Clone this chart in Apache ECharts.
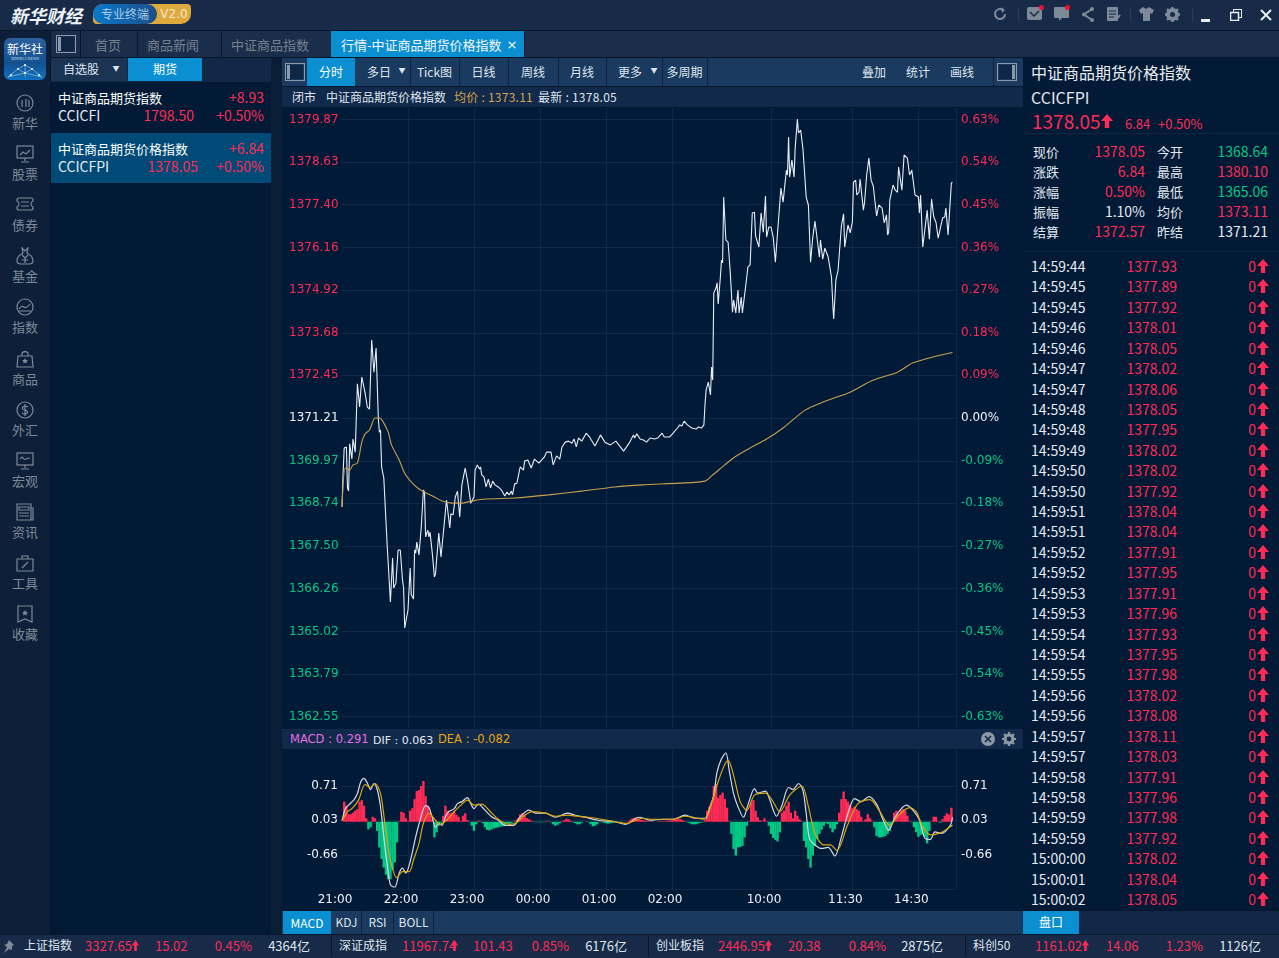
<!DOCTYPE html>
<html lang="zh-CN">

<head>
  <meta charset="UTF-8">
  <title>行情-中证商品期货价格指数</title>
  <script src="https://cdn.jsdelivr.net/npm/echarts@6/dist/echarts.min.js"></script>
  <style>
    html,
    body {
      margin: 0;
      width: 1279px;
      height: 958px;
      overflow: hidden;
      background: #0a1a2f;
      font-family: "Noto Sans CJK SC", sans-serif;
    }

    .r,
    .t,
    svg.i {
      position: absolute;
    }

    .t {
      white-space: nowrap;
      line-height: 1;
    }

    #chart {
      position: absolute;
      left: 282px;
      top: 108px;
      width: 740px;
      height: 802px;
    }
  </style>
</head>

<body>
  <div id="ui"></div>
  <div id="chart"></div>
  <div id="over"></div>
  <script>
    // [minute since 21:00 on the trading clock, price]
    var pricePoints = [
      [0, 1368.63], [1, 1369.61], [2, 1370.34], [4, 1370.37], [5, 1369.18], [6, 1369.09], [7, 1370.46], [9, 1370.02], [10, 1370.60], [12, 1370.22],
      [14, 1372.20], [15, 1371.88], [16, 1371.53], [18, 1372.40], [19, 1372.37], [21, 1371.94], [23, 1371.53], [25, 1371.47], [27, 1373.47], [29, 1372.54],
      [31, 1373.24], [32, 1372.23], [33, 1371.21], [34, 1370.80], [35, 1370.86], [36, 1369.79], [38, 1369.47], [41, 1367.56], [42, 1367.56], [44, 1365.87],
      [46, 1367.15], [47, 1366.28], [49, 1366.42], [51, 1367.38], [53, 1367.38], [55, 1366.51], [56, 1366.28], [57, 1365.12], [60, 1365.64], [62, 1366.86],
      [63, 1366.08], [65, 1365.96], [66, 1367.38], [67, 1367.29], [68, 1367.61], [70, 1367.24], [72, 1368.02], [74, 1369.12], [75, 1369.06], [76, 1367.76],
      [78, 1367.96], [79, 1367.76], [80, 1367.90], [82, 1367.32], [83, 1367.29], [84, 1366.60], [85, 1366.69], [88, 1367.87], [90, 1367.18], [91, 1367.15],
      [93, 1368.16], [95, 1368.83], [98, 1368.02], [99, 1368.43], [101, 1368.40], [103, 1368.92], [105, 1369.09], [107, 1368.34], [109, 1369.27], [112, 1369.76],
      [114, 1369.41], [116, 1368.98], [117, 1368.74], [120, 1368.92], [121, 1369.70], [123, 1369.85], [125, 1369.73], [126, 1369.79], [127, 1369.56], [129, 1369.50],
      [131, 1369.21], [133, 1369.44], [135, 1369.18], [137, 1369.38], [139, 1369.27], [142, 1369.21], [145, 1369.12], [148, 1368.95], [150, 1369.06], [152, 1368.98],
      [154, 1369.09], [155, 1368.98], [157, 1369.30], [159, 1369.32], [162, 1369.79], [165, 1369.70], [166, 1369.96], [169, 1369.99], [172, 1369.76], [175, 1370.02],
      [179, 1369.90], [184, 1370.08], [186, 1370.22], [190, 1370.22], [192, 1369.85], [195, 1370.11], [198, 1370.02], [200, 1370.37], [203, 1370.51], [206, 1370.54],
      [209, 1370.48], [211, 1370.60], [213, 1370.37], [215, 1370.63], [218, 1370.54], [222, 1370.77], [225, 1370.66], [230, 1370.40], [235, 1370.72], [239, 1370.51],
      [244, 1370.43], [249, 1370.54], [256, 1370.25], [261, 1370.48], [265, 1370.72], [266, 1370.63], [268, 1370.75], [271, 1370.60], [274, 1370.57], [277, 1370.51],
      [278, 1370.48], [280, 1370.63], [284, 1370.60], [287, 1370.63], [291, 1370.77], [293, 1370.66], [295, 1370.66], [298, 1370.66], [301, 1370.77], [305, 1370.92],
      [307, 1371.01], [309, 1370.98], [311, 1371.12], [314, 1371.01], [315, 1371.04], [318, 1370.92], [322, 1370.89], [324, 1370.95], [327, 1370.92], [329, 1371.01],
      [330, 1371.59], [331, 1372.02], [333, 1372.25], [335, 1371.88], [336, 1372.69], [337, 1372.31], [338, 1374.84], [340, 1374.98], [341, 1375.13], [342, 1374.52],
      [344, 1375.30], [345, 1375.79], [346, 1375.71], [347, 1377.62], [349, 1376.37], [351, 1376.31], [353, 1375.42], [355, 1374.28], [356, 1374.63], [358, 1374.26],
      [360, 1374.92], [361, 1374.26], [363, 1374.72], [364, 1374.26], [365, 1374.26], [368, 1375.30], [369, 1375.59], [371, 1375.65], [373, 1377.16], [375, 1377.18],
      [376, 1376.49], [379, 1376.17], [381, 1377.16], [383, 1376.60], [385, 1377.65], [386, 1376.46], [388, 1376.75], [390, 1376.75], [392, 1376.46], [394, 1375.73],
      [395, 1376.17], [398, 1377.45], [399, 1377.88], [401, 1377.47], [404, 1378.40], [405, 1378.26], [406, 1379.36], [407, 1378.20], [409, 1378.69], [411, 1378.20],
      [412, 1379.04], [414, 1379.88], [415, 1379.48], [417, 1379.56], [419, 1379.04], [422, 1377.62], [424, 1377.39], [426, 1375.73], [428, 1376.46], [430, 1376.92],
      [434, 1375.88], [435, 1376.37], [437, 1375.82], [439, 1376.14], [442, 1375.88], [445, 1375.30], [446, 1374.63], [447, 1374.08], [449, 1375.21], [451, 1375.50],
      [454, 1376.78], [455, 1376.81], [456, 1377.13], [457, 1376.17], [460, 1376.81], [462, 1376.58], [464, 1376.89], [465, 1378.05], [467, 1378.11], [468, 1377.68],
      [470, 1377.76], [471, 1378.14], [474, 1377.24], [475, 1377.45], [477, 1378.26], [479, 1378.75], [481, 1378.11], [483, 1377.94], [486, 1377.07], [488, 1377.39],
      [491, 1377.30], [493, 1376.87], [495, 1377.10], [496, 1376.52], [497, 1376.60], [498, 1377.53], [501, 1377.97], [503, 1377.82], [505, 1377.76], [506, 1378.49],
      [509, 1377.82], [511, 1378.84], [514, 1378.75], [516, 1378.26], [518, 1378.40], [521, 1377.68], [524, 1377.62], [525, 1377.16], [526, 1377.68], [528, 1376.17],
      [529, 1376.17], [532, 1377.24], [534, 1376.40], [536, 1377.56], [538, 1377.04], [540, 1376.89], [542, 1376.43], [545, 1376.87], [546, 1377.01], [548, 1377.04],
      [549, 1377.30], [551, 1376.52], [554, 1378.03], [555, 1378.05]
    ];
    var averagePoints = [
      [0, 1368.63], [3, 1369.76], [7, 1369.70], [10, 1369.85], [14, 1369.90], [18, 1370.51], [21, 1370.75], [25, 1370.86], [30, 1371.21], [34, 1371.21],
      [37, 1371.12], [42, 1370.80], [45, 1370.43], [52, 1369.99], [57, 1369.61], [64, 1369.32], [70, 1369.15], [77, 1369.03], [84, 1368.92], [91, 1368.80],
      [100, 1368.74], [109, 1368.74], [118, 1368.80], [130, 1368.86], [157, 1368.89], [188, 1368.98], [218, 1369.09], [248, 1369.21], [273, 1369.27], [307, 1369.32],
      [330, 1369.38], [336, 1369.53], [348, 1369.85], [357, 1370.08], [371, 1370.34], [386, 1370.60], [401, 1370.92], [421, 1371.44], [437, 1371.67], [450, 1371.82],
      [462, 1371.96], [483, 1372.31], [505, 1372.54], [519, 1372.81], [537, 1372.98], [555, 1373.11]
    ];
    var difPoints = [
      [0, 0.02], [3, 0.26], [6, 0.33], [11, 0.44], [14, 0.56], [17, 0.79], [20, 0.86], [23, 0.77], [26, 0.64], [29, 0.76], [32, 0.64], [35, 0.30], [38, -0.30], [41, -0.83],
      [44, -1.25], [48, -1.30], [52, -1.02], [55, -0.92], [58, -1.02], [62, -0.79], [67, -0.30], [71, 0.03], [76, 0.32], [79, 0.28], [82, 0.09], [85, -0.11], [88, -0.03],
      [91, -0.07], [94, 0.10], [97, 0.20], [102, 0.26], [105, 0.36], [109, 0.40], [114, 0.48], [117, 0.36], [120, 0.26], [124, 0.35], [130, 0.23], [136, 0.10], [142, 0.03],
      [148, -0.07], [156, -0.07], [162, 0.10], [170, 0.23], [176, 0.17], [185, 0.17], [194, 0.09], [205, 0.17], [212, 0.13], [221, 0.09], [233, 0.03], [248, 0], [258, -0.05],
      [267, 0.07], [271, 0.09], [280, 0.03], [292, 0.05], [301, 0.05], [312, 0.13], [321, 0.07], [330, 0.07], [335, 0.33], [338, 0.53], [341, 0.99], [345, 1.25], [349, 1.37],
      [352, 1.02], [356, 0.56], [360, 0.30], [365, 0.09], [369, 0.33], [375, 0.66], [378, 0.57], [385, 0.61], [389, 0.43], [395, 0.11], [400, 0.33], [406, 0.68], [410, 0.64],
      [415, 0.76], [419, 0.63], [422, 0.17], [425, -0.33], [430, -0.46], [436, -0.53], [442, -0.51], [448, -0.68], [454, -0.30], [460, 0.17], [466, 0.46], [472, 0.40], [479, 0.50],
      [486, 0.35], [492, 0.03], [497, -0.17], [503, 0.10], [513, 0.33], [519, 0.23], [525, 0.03], [530, -0.33], [535, -0.35], [539, -0.20], [545, -0.23], [553, -0.07], [555, 0.09]
    ];
    var deaPoints = [
      [0, 0.02], [5, 0.20], [9, 0.26], [15, 0.43], [21, 0.74], [26, 0.68], [30, 0.76], [35, 0.56], [39, -0.03], [44, -0.76], [50, -1.11], [55, -0.99], [61, -0.99], [65, -0.76],
      [70, -0.43], [74, -0.03], [79, 0.17], [85, 0.03], [89, -0.05], [95, 0.03], [102, 0.20], [108, 0.33], [114, 0.43], [120, 0.33], [127, 0.35], [135, 0.20], [142, 0.05],
      [152, -0.05], [158, -0.03], [165, 0.11], [173, 0.20], [185, 0.17], [194, 0.11], [205, 0.13], [214, 0.11], [224, 0.09], [236, 0.05], [248, 0], [259, -0.03], [267, 0.03],
      [273, 0.07], [280, 0.05], [292, 0.05], [301, 0.05], [312, 0.11], [321, 0.08], [330, 0.05], [336, 0.36], [341, 0.73], [347, 1.09], [351, 1.22], [356, 0.92], [362, 0.40],
      [368, 0.23], [375, 0.53], [385, 0.57], [391, 0.43], [398, 0.20], [407, 0.53], [418, 0.71], [424, 0.30], [430, -0.23], [438, -0.46], [444, -0.46], [450, -0.57], [459, -0.10],
      [469, 0.36], [480, 0.44], [489, 0.20], [498, -0.07], [506, 0.13], [516, 0.28], [522, 0.20], [528, -0.10], [535, -0.26], [544, -0.22], [553, -0.10], [555, -0.07]
    ];
    // one histogram reading every 2 minutes
    var macdBars = [
      0, 0.40, 0.32, 0.15, 0.15, 0.18, 0.22, 0.25, 0.40, 0.43, 0.32, 0.07, -0.15, -0.11, 0.10, 0.07, -0.18, -0.51, -0.74, -0.91,
      -1.05, -1.14, -1.14, -0.96, -0.81, -0.41, 0.01, 0.20, 0.18, 0.07, 0.01, 0.22, 0.27, 0.45, 0.61, 0.63, 0.71, 0.81, 0.51, 0.32,
      0.18, 0.05, -0.31, -0.21, -0.08, -0.02, 0.12, 0.32, 0.22, 0.17, 0.18, 0.22, 0.14, 0.10, 0.01, 0.12, 0.17, 0.03, -0.01, -0.08,
      -0.18, -0.05, 0.02, 0.01, -0.03, -0.11, -0.16, -0.17, -0.15, -0.13, -0.12, -0.11, -0.10, -0.09, -0.07, -0.03, -0.05, -0.03, -0.01, 0.03,
      0.07, 0.15, 0.17, 0.14, 0.07, 0.05, 0.02, 0.01, -0.01, -0.01, -0.01, -0.01, -0.01, 0.01, 0.01, -0.01, -0.05, -0.08, -0.06, -0.03,
      0.01, 0.03, 0.06, 0.05, 0.02, -0.01, -0.03, -0.05, -0.05, -0.02, 0, 0.01, -0.01, -0.05, -0.09, -0.08, -0.05, 0.01, -0.01, -0.02,
      -0.03, -0.04, -0.03, -0.02, -0.01, -0.01, -0.01, -0.01, 0, 0, 0.01, 0.04, 0.07, 0.08, 0.07, 0.05, 0.04, 0.03, 0.02, 0.01,
      0.01, 0.01, 0, 0, 0.01, 0.01, 0.01, 0.01, 0.02, 0.02, 0.03, 0.04, 0.05, 0.06, 0.05, 0.03, 0.01, -0.01, -0.03, -0.05,
      -0.05, -0.05, -0.03, -0.02, -0.01, 0.03, 0.22, 0.30, 0.38, 0.71, 0.75, 0.48, 0.53, 0.58, 0.45, 0.28, 0.01, -0.24, -0.54, -0.67,
      -0.51, -0.50, -0.48, -0.31, -0.08, 0.01, 0.38, 0.43, 0.22, 0.09, 0.03, 0.01, 0.07, 0.01, -0.08, -0.24, -0.32, -0.36, -0.39, -0.21,
      0.18, 0.22, 0.32, 0.40, 0.18, 0.07, 0.22, 0.12, 0.05, 0.01, -0.38, -0.51, -0.74, -0.91, -0.67, -0.48, -0.34, -0.24, -0.16, -0.08,
      -0.02, -0.05, -0.13, -0.21, -0.15, -0.05, 0.18, 0.45, 0.60, 0.45, 0.40, 0.32, 0.27, 0.30, 0.25, 0.22, 0.10, 0.01, 0.05, 0.15,
      0.07, 0.01, -0.11, -0.28, -0.31, -0.31, -0.30, -0.28, -0.24, -0.18, -0.05, 0.18, 0.22, 0.15, 0.23, 0.25, 0.22, 0.12, 0.01, -0.01,
      -0.11, -0.21, -0.30, -0.26, -0.25, -0.30, -0.43, -0.18, 0.01, 0.10, 0.10, 0.01, -0.02, 0.05, 0.12, 0.17, 0.14, 0.28
    ];
    var tickMinutes = [0, 60, 120, 180, 240, 300, 390, 464, 524];
    var tickTimes = ['21:00', '22:00', '23:00', '00:00', '01:00', '02:00', '10:00', '11:30', '14:30'];
    var priceTicks = ['1362.55', '1363.79', '1365.02', '1366.26', '1367.50', '1368.74', '1369.97', '1371.21', '1372.45', '1373.68', '1374.92', '1376.16', '1377.40', '1378.63', '1379.87'];
    var percentTicks = ['-0.63%', '-0.54%', '-0.45%', '-0.36%', '-0.27%', '-0.18%', '-0.09%', '0.00%', '0.09%', '0.18%', '0.27%', '0.36%', '0.45%', '0.54%', '0.63%'];
    var macdTicks = ['-0.66', '0.03', '0.71'];

    var tradeTimes = ['14:59:44', '14:59:45', '14:59:45', '14:59:46', '14:59:46', '14:59:47', '14:59:47', '14:59:48', '14:59:48', '14:59:49', '14:59:50', '14:59:50', '14:59:51', '14:59:51', '14:59:52', '14:59:52', '14:59:53', '14:59:53', '14:59:54', '14:59:54', '14:59:55', '14:59:56', '14:59:56', '14:59:57', '14:59:57', '14:59:58', '14:59:58', '14:59:59', '14:59:59', '15:00:00', '15:00:01', '15:00:02'];
    var tradePrices = ['1377.93', '1377.89', '1377.92', '1378.01', '1378.05', '1378.02', '1378.06', '1378.05', '1377.95', '1378.02', '1378.02', '1377.92', '1378.04', '1378.04', '1377.91', '1377.95', '1377.91', '1377.96', '1377.93', '1377.95', '1377.98', '1378.02', '1378.08', '1378.11', '1378.03', '1377.91', '1377.96', '1377.98', '1377.92', '1378.02', '1378.04', '1378.05'];
    var navLabels = ['新华', '股票', '债券', '基金', '指数', '商品', '外汇', '宏观', '资讯', '工具', '收藏'];
    var tickerRows = [
      ['上证指数', '3327.65', '15.02', '0.45%', '4364亿'],
      ['深证成指', '11967.74', '101.43', '0.85%', '6176亿'],
      ['创业板指', '2446.95', '20.38', '0.84%', '2875亿'],
      ['科创50', '1161.02', '14.06', '1.23%', '1126亿']
    ];

    var RED = '#ff2b54';
    var GREEN = '#00c985';
    var WHITE = '#e3eaf2';
    var AXIS_WHITE = '#eef3f8';
    var GOLD = '#d3a54c';
    var GRID = '#10294a';
    var BLUE = '#0a8fd3';
    var BAR = '#1b3a5f';
    var AXIS_FONT = '"DejaVu Sans"';

    var ui = document.getElementById('ui');
    var over = document.getElementById('over');

    function box(x, y, w, h, color, parent) {
      var d = document.createElement('div');
      d.className = 'r';
      d.style.cssText = 'left:' + x + 'px;top:' + y + 'px;width:' + w + 'px;height:' + h + 'px;background:' + color;
      (parent || ui).appendChild(d);
      return d;
    }

    // y is the vertical centre of the text; align l / r / c
    function text(x, y, str, size, color, align, font, parent) {
      var d = document.createElement('div');
      var tx = align === 'r' ? '-100%' : align === 'c' ? '-50%' : '0';
      // the CJK font sits a pixel low in its line box
      var top = font ? y : y - 1;
      d.className = 't';
      d.textContent = str;
      d.style.cssText = 'left:' + x + 'px;top:' + top + 'px;font-size:' + size + 'px;color:' + color + ';transform:translate(' + tx + ',-50%)' + (font ? ';font-family:' + font : '');
      (parent || ui).appendChild(d);
      return d;
    }

    function icon(x, y, w, h, inner, parent) {
      var ns = '<svg class="i" style="left:' + x + 'px;top:' + y + 'px" width="' + w + '" height="' + h + '" viewBox="0 0 ' + w + ' ' + h + '" xmlns="http://www.w3.org/2000/svg">' + inner + '</svg>';
      (parent || ui).insertAdjacentHTML('beforeend', ns);
    }

    function upArrow(x, y, w, h, color, parent) {
      icon(x, y, w, h, '<path fill="' + color + '" d="M' + w / 2 + ' 0L' + w + ' ' + h * 0.5 + 'H' + w * 0.68 + 'V' + h + 'H' + w * 0.32 + 'V' + h * 0.5 + 'H0Z"/>', parent);
    }

    function panelToggle(x, y, side, parent) {
      var bar = side === 'l' ? 'x="2" ' : 'x="15" ';
      icon(x, y, 20, 18, '<rect x="0.5" y="0.5" width="19" height="17" fill="none" stroke="#8d99a8"/><rect ' + bar + 'y="2" width="3" height="14" fill="#8d99a8"/><rect ' + (side === 'l' ? 'x="5"' : 'x="2"') + ' y="2" width="13" height="14" fill="#0f2744"/>', parent);
    }

    function drawChrome() {
      // title bar
      box(0, 0, 1279, 30, '#172a47');
      box(0, 30, 1279, 1, '#07162a');
      var logo = text(10, 15, '新华财经', 18, '#eef2f6', 'l', '"Noto Sans CJK SC"');
      logo.style.fontStyle = 'italic';
      logo.style.fontWeight = '700';
      var badge = box(93, 4, 98, 20, '#e0a93c');
      badge.style.borderRadius = '10px 4px 10px 4px';
      var badgeBlue = box(93, 4, 64, 20, 'linear-gradient(90deg,#0a78c8,#1c4f8c)');
      badgeBlue.style.borderRadius = '10px 10px 10px 10px';
      text(125, 15, '专业终端', 12, '#a9cdea', 'c');
      text(174, 14, 'V2.0', 12, '#f1e7d2', 'c', AXIS_FONT);

      var g = '#7f8a99';
      icon(992, 6, 16, 16, '<path d="M13 8a5 5 0 1 1-2-4" fill="none" stroke="' + g + '" stroke-width="2"/><path d="M9 1l4 3-3 3z" fill="' + g + '"/>');
      box(1018, 8, 1, 14, '#2a3c58');
      icon(1027, 7, 15, 14, '<rect width="15" height="13" rx="2" fill="' + g + '"/><path d="M3 5l4 4 5-5" fill="none" stroke="#172a47" stroke-width="1.5"/>');
      box(1039, 5, 5, 5, '#f01030').style.borderRadius = '50%';
      icon(1054, 7, 15, 15, '<path d="M1 0h13a1 1 0 0 1 1 1v9a1 1 0 0 1-1 1H8l-3 3v-3H1a1 1 0 0 1-1-1V1a1 1 0 0 1 1-1z" fill="' + g + '"/>');
      box(1065, 5, 5, 5, '#f01030').style.borderRadius = '50%';
      icon(1081, 7, 13, 15, '<path d="M11 2L3 7.5 11 13" fill="none" stroke="' + g + '" stroke-width="2"/><circle cx="11" cy="2" r="2" fill="' + g + '"/><circle cx="3" cy="7.5" r="2" fill="' + g + '"/><circle cx="11" cy="13" r="2" fill="' + g + '"/>');
      icon(1107, 7, 14, 15, '<rect width="11" height="14" rx="1" fill="' + g + '"/><path d="M2 4h7M2 7h7M2 10h5" stroke="#172a47"/><path d="M9 13l4-5" stroke="' + g + '" stroke-width="2"/>');
      box(1130, 8, 1, 14, '#2a3c58');
      icon(1139, 7, 15, 14, '<path d="M4 0l3 2 3-2 5 3-2 4-2-1v8H4V6L2 7 0 3z" fill="' + g + '"/>');
      icon(1165, 7, 15, 15, '<circle cx="7.5" cy="7.5" r="6.5" fill="' + g + '"/><path d="M7.5 0v15M0 7.5h15M2 2l11 11M13 2L2 13" stroke="' + g + '" stroke-width="2.4"/><circle cx="7.5" cy="7.5" r="2.5" fill="#172a47"/>');
      box(1192, 8, 1, 14, '#2a3c58');
      box(1201, 19, 9, 3, '#e8edf2');
      icon(1230, 9, 12, 12, '<rect x="3.5" y="0.5" width="8" height="8" fill="none" stroke="#e8edf2"/><rect x="0.5" y="3.5" width="8" height="8" fill="#172a47" stroke="#e8edf2" stroke-width="1.5"/>');
      icon(1260, 9, 12, 12, '<path d="M1 1l10 10M11 1L1 11" stroke="#e8edf2" stroke-width="2"/>');

      // nav column
      box(0, 31, 50, 904, '#0e2039');
      box(50, 31, 1, 904, '#07162a');
      var mark = box(4, 38, 42, 42, 'linear-gradient(180deg,#2b5f9e 0%,#14508f 60%,#0f74c4 100%)');
      mark.style.borderRadius = '6px';
      text(25, 50, '新华社', 12, '#ffffff', 'c');
      text(25, 59, 'XINHUA NEWS', 4, '#cfe2f5', 'c', '"Liberation Serif"');
      icon(6, 63, 38, 16, '<path d="M2 14L12 6 19 2 26 6 36 14M12 6L19 10 26 6M2 14L19 10 36 14M19 2V14" fill="none" stroke="#c8e2f7" stroke-width="0.5"/><circle cx="12" cy="6" r="1" fill="#fff"/><circle cx="19" cy="2" r="1" fill="#fff"/><circle cx="26" cy="6" r="1" fill="#fff"/><circle cx="19" cy="10" r="1" fill="#fff"/><circle cx="5" cy="12" r="1" fill="#fff"/><circle cx="33" cy="12" r="1" fill="#fff"/>');
      var s = 'fill="none" stroke="#7d8997" stroke-width="1.2"';
      var navIcons = [
        '<circle cx="9" cy="9" r="8" ' + s + '/><path d="M6 6v7M10 5v8M13 6v7" ' + s + '/>',
        '<rect x="1" y="1" width="16" height="12" ' + s + '/><path d="M4 10l3-3 3 2 4-4M9 13v3M5 17h8" ' + s + '/>',
        '<path d="M3 2h12q2 0 2 2v1q-2 1-2 3t2 3v1q0 2-2 2H3q-2 0-2-2v-1q2-1 2-3T1 5V4q0-2 2-2zM5 6h8M5 10h8" ' + s + '/>',
        '<path d="M6 1l3 3 3-3-1 5q6 3 6 8 0 3-4 3H5q-4 0-4-3 0-5 6-8zM6 8l3 3 3-3M9 11v5M6 13h6" ' + s + '/>',
        '<circle cx="9" cy="9" r="8" ' + s + '/><path d="M3 11q3-4 5-2t6-3M3 13h12" ' + s + '/>',
        '<path d="M2 6h14l1 11H1zM6 6V3q3-3 6 0v3" ' + s + '/><path d="M9 8l1 2h2l-1.5 1.5.5 2L9 12.5 7 13.500l.5-2L6 10h2z" fill="#7d8997"/>',
        '<circle cx="9" cy="9" r="8" ' + s + '/><path d="M12 6q-3-2-5 0t2 3 2 3-5 0M9 3v12" ' + s + '/>',
        '<rect x="1" y="1" width="16" height="12" ' + s + '/><path d="M4 7q2-3 3-1t3 1 4-1M9 13v3M5 17h8" ' + s + '/>',
        '<path d="M1 1h14v16H1zM15 5h2v12h-2M3 4h10v3H3zM3 10h10M3 13h10" ' + s + '/>',
        '<path d="M1 5h16v12H1zM6 5V2h6v3M6 14l6-6" ' + s + '/>',
        '<path d="M2 1h14v16L9 14l-7 3z" ' + s + '/><path d="M9 5l1 2h2l-1.500 1.500.5 2L9 9.500 7 10.500l.5-2L6 7h2z" fill="#7d8997"/>'
      ];
      navLabels.forEach(function (label, i) {
        var y = 123 + i * 51.1;
        icon(16, y - 29, 18, 18, navIcons[i]);
        text(25, y, label, 13, '#7d8997', 'c');
      });

      // tab row
      box(51, 31, 1228, 26, '#1a2e4b');
      box(51, 57, 1228, 1, '#07162a');
      panelToggle(56, 35, 'l');
      [[80, '首页', 108], [137, '商品新闻', 173], [221, '中证商品指数', 270]].forEach(function (t) {
        box(t[0], 31, 1, 26, '#07162a');
        text(t[2], 45, t[1], 13, '#76818f', 'c');
      });
      box(331, 31, 193, 26, BLUE);
      text(341, 45, '行情-中证商品期货价格指数', 13, '#f4f8fb', 'l');
      text(512, 44, '×', 13, '#ffffff', 'c', AXIS_FONT);
      box(524, 31, 1, 26, '#07162a');

      // left list
      box(51, 58, 220, 877, '#021a36');
      box(271, 58, 11, 877, '#0c1d36');
      box(51, 58, 220, 24, '#132847');
      box(51, 58, 76, 23, '#1b3454');
      text(81, 70, '自选股', 12, '#dfe6ee', 'c');
      text(116, 69, '▼', 7, '#dfe6ee', 'c');
      box(128, 58, 74, 23, BLUE);
      text(165, 70, '期货', 12, '#ffffff', 'c');
      box(51, 133, 220, 50, '#004a77');
      text(58, 98, '中证商品期货指数', 13, '#ffffff', 'l');
      text(264, 98, '+8.93', 14, RED, 'r');
      text(58, 116, 'CCICFI', 14, WHITE, 'l');
      text(194, 116, '1798.50', 14, RED, 'r');
      text(264, 116, '+0.50%', 14, RED, 'r');
      text(58, 149, '中证商品期货价格指数', 13, '#ffffff', 'l');
      text(264, 149, '+6.84', 14, RED, 'r');
      text(58, 167, 'CCICFPI', 14, WHITE, 'l');
      text(198, 167, '1378.05', 14, RED, 'r');
      text(264, 167, '+0.50%', 14, RED, 'r');

      // chart column
      box(282, 58, 741, 877, '#001a37');
      box(282, 58, 741, 28, BAR);
      box(282, 86, 741, 1, '#07162a');
      panelToggle(285, 63, 'l');
      box(307, 58, 48, 28, BLUE);
      text(331, 73, '分时', 12, '#ffffff', 'c');
      [[355, 410, '多日'], [410, 459, 'Tick图'], [459, 508, '日线'], [508, 558, '周线'], [558, 606, '月线'], [606, 662, '更多'], [662, 707, '多周期']].forEach(function (b) {
        box(b[1], 58, 1, 28, '#0c2240');
        var cx = (b[2] === '多日' || b[2] === '更多') ? b[0] + 24 : (b[0] + b[1]) / 2;
        text(cx, 73, b[2], 12, '#dfe6ee', 'c');
        if (b[2] === '多日' || b[2] === '更多') {
          text(b[1] - 8, 71, '▼', 7, '#dfe6ee', 'c');
        }
      });
      text(874, 73, '叠加', 12, '#dfe6ee', 'c');
      text(918, 73, '统计', 12, '#dfe6ee', 'c');
      text(962, 73, '画线', 12, '#dfe6ee', 'c');
      box(993, 58, 1, 28, '#0c2240');
      panelToggle(997, 63, 'r');

      // bar under the x axis
      box(282, 910, 741, 1, '#07162a');
      box(282, 911, 741, 24, BAR);
      box(283, 911, 48, 24, BLUE);
      text(307, 923, 'MACD', 12, '#ffffff', 'c', '"Noto Sans CJK SC"');
      [[332, 361, 'KDJ'], [362, 393, 'RSI'], [394, 433, 'BOLL']].forEach(function (b) {
        box(b[1], 911, 1, 24, '#0c2240');
        text((b[0] + b[1]) / 2, 923, b[2], 12, '#dfe6ee', 'c');
      });

      // right panel
      box(1023, 58, 256, 877, '#021a36');
      box(1023, 58, 1, 877, '#07162a');
      text(1031, 73, '中证商品期货价格指数', 16, '#e8edf3', 'l');
      text(1031, 98, 'CCICFPI', 16, WHITE, 'l');
      text(1032, 121, '1378.05', 19, RED, 'l');
      upArrow(1101, 114, 12, 14, RED);
      text(1125, 124, '6.84', 13, RED, 'l');
      text(1158, 124, '+0.50%', 13, RED, 'l');
      box(1023, 133, 256, 1, '#0d2743');
      box(1023, 251, 256, 1, '#0d2743');
      [
        ['现价', '1378.05', RED, '今开', '1368.64', GREEN],
        ['涨跌', '6.84', RED, '最高', '1380.10', RED],
        ['涨幅', '0.50%', RED, '最低', '1365.06', GREEN],
        ['振幅', '1.10%', WHITE, '均价', '1373.11', RED],
        ['结算', '1372.57', RED, '昨结', '1371.21', WHITE]
      ].forEach(function (r, i) {
        var y = 152 + i * 20;
        text(1033, y, r[0], 13, WHITE, 'l');
        text(1145, y, r[1], 14, r[2], 'r');
        text(1157, y, r[3], 13, WHITE, 'l');
        text(1268, y, r[4], 14, r[5], 'r');
      });
      tradeTimes.forEach(function (t, i) {
        var y = 267 + i * 20.42;
        text(1031, y, t, 14, WHITE, 'l');
        text(1177, y, tradePrices[i], 14, RED, 'r');
        text(1256, y, '0', 14, RED, 'r');
        upArrow(1257, y - 8, 12, 14, RED);
      });
      box(1023, 910, 256, 1, '#07162a');
      box(1023, 911, 256, 24, '#122746');
      box(1023, 911, 56, 24, BLUE);
      text(1051, 923, '盘口', 12, '#ffffff', 'c');

      // ticker
      box(0, 935, 1279, 23, '#172a47');
      box(0, 934, 1279, 1, '#07162a');
      icon(2, 940, 13, 13, '<path d="M7 0l5 5-2 1 0 4-3-1-5 4 3-6-3-2 3-1z" fill="#7f8a99"/>');
      var cols = [[24, 85, 155, 252, 310], [339, 402, 473, 569, 627], [656, 718, 788, 886, 943], [973, 1035, 1106, 1203, 1261]];
      var arrowX = [132, 451, 765, 1082];
      tickerRows.forEach(function (r, i) {
        var c = cols[i];
        text(c[0], 946, r[0], 12, '#dfe6ee', 'l');
        text(c[1], 946, r[1], 13, RED, 'l');
        upArrow(arrowX[i], 940, 7, 11, RED);
        text(c[2], 946, r[2], 13, RED, 'l');
        text(c[3], 946, r[3], 13, RED, 'r');
        text(c[4], 946, r[4], 13, '#dfe6ee', 'r');
        if (i > 0) {
          box(c[0] - 8, 936, 1, 21, '#07162a');
        }
      });
    }

    // info bars sit on top of the chart canvas
    function drawInfoBars() {
      box(282, 87, 741, 20, '#11294a', over);
      box(282, 107, 741, 1, '#07162a', over);
      text(292, 98, '闭市', 12, '#dfe6ee', 'l', null, over);
      text(326, 98, '中证商品期货价格指数', 12, '#dfe6ee', 'l', null, over);
      text(454, 98, '均价 : 1373.11', 12, GOLD, 'l', null, over).style.letterSpacing = '0.25px';
      text(538, 98, '最新 : 1378.05', 12, '#dfe6ee', 'l', null, over).style.letterSpacing = '0.25px';

      box(282, 729, 741, 20, '#11294a', over);
      text(290, 740, 'MACD : 0.291', 11.5, '#e46fe6', 'l', AXIS_FONT, over);
      text(373, 740, 'DIF : 0.063', 11, WHITE, 'l', AXIS_FONT, over);
      text(438, 740, 'DEA : -0.082', 11.5, '#e5a50f', 'l', AXIS_FONT, over);
      icon(981, 732, 14, 14, '<circle cx="7" cy="7" r="7" fill="#8d97a5"/><path d="M4 4l6 6M10 4l-6 6" stroke="#11294a" stroke-width="1.6"/>', over);
      icon(1002, 732, 14, 14, '<circle cx="7" cy="7" r="5.500" fill="#8d97a5"/><path d="M7 0v14M0 7h14M2 2l10 10M12 2L2 12" stroke="#8d97a5" stroke-width="2.200"/><circle cx="7" cy="7" r="2.400" fill="#11294a"/>', over);
    }

    function buildChart() {
      var myChart = echarts.init(document.getElementById('chart'));
      var priceValues = priceTicks.map(Number);
      var macdValues = macdTicks.map(Number);

      function labelByValue(values, labels) {
        return function (value) {
          var best = 0;
          values.forEach(function (v, i) {
            if (Math.abs(v - value) < Math.abs(values[best] - value)) {
              best = i;
            }
          });
          return labels[best];
        };
      }

      function priceColor(value) {
        if (Math.abs(value - 1371.21) < 0.01) {
          return AXIS_WHITE;
        }
        return value > 1371.21 ? RED : GREEN;
      }

      var xBase = {
        type: 'value',
        min: 0,
        max: 558.2,
        axisLine: { show: false },
        axisTick: { show: false, customValues: tickMinutes },
        splitLine: { show: true, showMinLine: false, lineStyle: { color: GRID, width: 1 } }
      };

      var option = {
        animation: false,
        grid: [
          { left: 60, top: 0, width: 614, height: 620 },
          { left: 60, top: 642, width: 614, height: 139 }
        ],
        xAxis: [
          Object.assign({}, xBase, {
            gridIndex: 0,
            axisLabel: { show: false }
          }),
          Object.assign({}, xBase, {
            gridIndex: 1,
            axisLine: { show: true, onZero: false, lineStyle: { color: GRID } },
            axisLabel: {
              customValues: tickMinutes,
              margin: 5,
              padding: [0, 14, 0, 0],
              color: AXIS_WHITE,
              fontFamily: AXIS_FONT,
              fontSize: 12,
              hideOverlap: false,
              formatter: function (value) {
                return tickTimes[tickMinutes.indexOf(value)];
              }
            }
          })
        ],
        yAxis: [
          {
            type: 'value',
            gridIndex: 0,
            min: 1362.217,
            max: 1380.204,
            axisLine: { show: false },
            axisTick: { show: false, customValues: priceValues },
            splitLine: { show: true, lineStyle: { color: GRID } },
            axisLabel: {
              customValues: priceValues,
              align: 'left',
              margin: 53,
              padding: [4, 0, 0, 0],
              fontFamily: AXIS_FONT,
              fontSize: 12,
              color: priceColor,
              formatter: labelByValue(priceValues, priceTicks)
            }
          },
          {
            type: 'value',
            gridIndex: 0,
            position: 'right',
            min: 1362.217,
            max: 1380.204,
            axisLine: { show: true, lineStyle: { color: GRID } },
            axisTick: { show: false, customValues: priceValues },
            splitLine: { show: false },
            axisLabel: {
              customValues: priceValues,
              margin: 5,
              padding: [4, 0, 0, 0],
              fontFamily: AXIS_FONT,
              fontSize: 12,
              color: priceColor,
              formatter: labelByValue(priceValues, percentTicks)
            }
          },
          {
            type: 'value',
            gridIndex: 1,
            min: -1.335,
            max: 1.425,
            axisLine: { show: false },
            axisTick: { show: false, customValues: macdValues },
            splitLine: { show: true, lineStyle: { color: GRID } },
            axisLabel: {
              customValues: macdValues,
              margin: 4,
              fontFamily: AXIS_FONT,
              fontSize: 12,
              color: AXIS_WHITE,
              formatter: labelByValue(macdValues, macdTicks)
            }
          },
          {
            type: 'value',
            gridIndex: 1,
            position: 'right',
            min: -1.335,
            max: 1.425,
            axisLine: { show: true, lineStyle: { color: GRID } },
            axisTick: { show: false, customValues: macdValues },
            splitLine: { show: false },
            axisLabel: {
              customValues: macdValues,
              margin: 5,
              fontFamily: AXIS_FONT,
              fontSize: 12,
              color: AXIS_WHITE,
              formatter: labelByValue(macdValues, macdTicks)
            }
          }
        ],
        series: [
          {
            name: '最新',
            type: 'line',
            xAxisIndex: 0,
            yAxisIndex: 0,
            data: pricePoints,
            showSymbol: false,
            lineStyle: { color: '#e9eef4', width: 1.1 }
          },
          {
            name: '均价',
            type: 'line',
            xAxisIndex: 0,
            yAxisIndex: 0,
            data: averagePoints,
            showSymbol: false,
            smooth: 0.25,
            lineStyle: { color: '#c9a04e', width: 1.1 }
          },
          {
            name: 'MACD',
            type: 'bar',
            xAxisIndex: 1,
            yAxisIndex: 2,
            barWidth: 2.4,
            data: macdBars.map(function (v, i) {
              return [i * 2, v];
            }),
            itemStyle: {
              color: function (p) {
                return p.value[1] >= 0 ? RED : GREEN;
              }
            }
          },
          {
            name: 'DIF',
            type: 'line',
            xAxisIndex: 1,
            yAxisIndex: 2,
            data: difPoints,
            showSymbol: false,
            smooth: 0.3,
            lineStyle: { color: '#d3dae3', width: 1.2 }
          },
          {
            name: 'DEA',
            type: 'line',
            xAxisIndex: 1,
            yAxisIndex: 2,
            data: deaPoints,
            showSymbol: false,
            smooth: 0.3,
            lineStyle: { color: '#dca40f', width: 1.2 }
          }
        ]
      };
      myChart.setOption(option);
    }

    drawChrome();
    buildChart();
    drawInfoBars();
  </script>
</body>

</html>
